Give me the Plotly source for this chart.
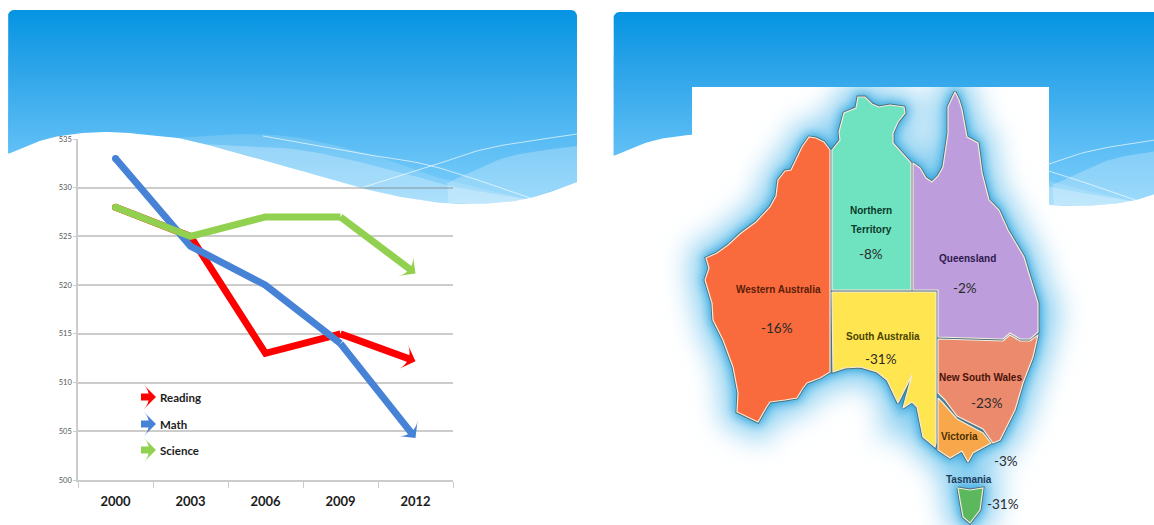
import base64

import numpy as np
import plotly.graph_objects as go

# PISA mean scores by study year
years = ["2000", "2003", "2006", "2009", "2012"]
reading = [528, 525, 513, 515, 512.2]
math = [533, 524, 520, 514, 504.3]
science = [528, 525, 527, 527, 521.2]

# State names and the change shown on each
state_names = ["Northern", "Territory", "Queensland", "Western Australia", "South Australia",
               "New South Wales", "Victoria", "Tasmania"]
state_changes = ["-8%", "-2%", "-16%", "-31%", "-23%", "-3%", "-31%"]

# Map outlines, in page pixels
wa = [(830,150),(824,142),(816,138),(809,137),(802,147),(796,160),(791,170),(785,171),(778,180),(776,196),(770,207),
      (756,222),(741,233),(728,245),(717,253),(706,258),(709,268),(705,280),(709,292),(712,303),(713,320),(723,340),
      (733,367),(738,393),(737,412),(747,417),(758,422),(766,408),(770,402),(785,400),(797,398),(803,388),(807,383),
      (820,378),(830,372)]
nt = [(832,150),(840,140),(839,132),(844,113),(856,108),(858,97),(865,97),(872,104),(879,107),(890,105),(904,107),
      (905,113),(898,122),(893,133),(893,143),(902,153),(911,163),(911,290),(832,290)]
qld = [(913,163),(920,168),(926,178),(932,182),(938,176),(943,167),(948,133),(948,107),(955,92),(959,100),(962,110),
       (967,137),(978,143),(982,173),(989,200),(999,210),(1008,230),(1024,257),(1030,277),(1038,303),(1038,332),
       (1030,339),(1020,339),(1010,333),(1003,339),(938,337),(938,290),(913,290)]
sa = [(832,292),(936,292),(936,443),(935,447),(923,437),(917,407),(912,402),(903,408),(912,375),(898,403),(887,380),
      (877,372),(860,367),(845,368),(833,372)]
nsw = [(938,339),(1003,341),(1010,335),(1020,341),(1030,341),(1038,335),(1033,357),(1023,383),(1015,410),(1000,440),
       (993,443),(983,429),(957,416),(945,400),(938,393)]
vic = [(938,398),(943,403),(957,419),(983,433),(991,443),(973,453),(968,462),(962,451),(950,458),(938,450)]
tas = [(958,488),(970,490),(983,488),(980,510),(970,523),(963,517),(960,500)]
map_regions = [(wa, "#f96b3c"), (nt, "#6fe3bf"), (qld, "#bd9ddc"), (sa, "#ffe650"),
               (nsw, "#ec8a6e"), (vic, "#f8a84a"), (tas, "#5cb85c")]

# Header artwork curves, in page pixels for the left panel
wave_edge = [(8,154),(50,138),(101,132),(150,135),(188,140),(263,160),(361,188),(420,200),(470,204),(526,199),(577,182)]
band_a = [(173,138),(240,134),(300,138),(376,156),(440,178),(526,199)]
band_b = [(200,144),(300,150),(400,172),(450,186),(526,199)]
band_c = [(447,183),(507,157),(577,146)]
ribbon_a = [(263,136),(350,152),(432,166),(530,198)]
ribbon_b = [(361,188),(432,166),(489,148),(577,134)]


def smooth(pts, n=14):
    """Catmull-Rom resampling of a hand-placed artwork curve."""
    p = np.array([pts[0]] + list(pts) + [pts[-1]], dtype=float)
    out = []
    for i in range(1, len(p) - 2):
        for t in np.linspace(0, 1, n, endpoint=False):
            a = 2 * p[i] + (p[i + 1] - p[i - 1]) * t
            b = (2 * p[i - 1] - 5 * p[i] + 4 * p[i + 1] - p[i + 2]) * t ** 2
            c = (3 * p[i] - p[i - 1] - 3 * p[i + 1] + p[i + 2]) * t ** 3
            out.append(0.5 * (a + b + c))
    out.append(p[-2])
    return np.array(out)


def panel_outline(left, right, top, bottom, r=6):
    ang = np.linspace(np.pi, 1.5 * np.pi, 7)
    tl = np.c_[left + r + r * np.cos(ang), top + r + r * np.sin(ang)]
    tr = np.c_[right - r - r * np.cos(ang[::-1]), top + r + r * np.sin(ang[::-1])]
    return np.vstack([[(left, bottom)], tl, tr, [(right, bottom)], [(left, bottom)]])


def glow_image():
    """Soft blue halo around the coast, rendered as a blurred SVG layer."""
    polys = "".join(
        '<polygon points="' + " ".join(f"{x},{y}" for x, y in pts) + '"/>' for pts, _ in map_regions
    )
    svg = (
        '<svg xmlns="http://www.w3.org/2000/svg" width="1154" height="525" viewBox="0 0 1154 525">'
        '<defs>'
        '<clipPath id="sheet"><rect x="600" y="87" width="554" height="438"/></clipPath>'
        '<filter id="wide" x="-20%" y="-20%" width="140%" height="140%"><feGaussianBlur stdDeviation="14"/></filter>'
        '<filter id="tight" x="-20%" y="-20%" width="140%" height="140%"><feGaussianBlur stdDeviation="5"/></filter>'
        '</defs>'
        '<g clip-path="url(#sheet)">'
        f'<g filter="url(#wide)" fill="#86cdf0" stroke="#86cdf0" stroke-width="30">{polys}</g>'
        f'<g filter="url(#tight)" fill="#1f9bd8" stroke="#1f9bd8" stroke-width="5" opacity="0.9">{polys}</g>'
        '</g></svg>'
    )
    return "data:image/svg+xml;base64," + base64.b64encode(svg.encode()).decode()


fig = go.Figure()


def add_poly(xy, xaxis="x", yaxis="y", **kw):
    xy = np.asarray(xy, dtype=float)
    fig.add_trace(go.Scatter(x=xy[:, 0], y=xy[:, 1], mode="lines", hoverinfo="skip",
                             showlegend=False, xaxis=xaxis, yaxis=yaxis, **kw))


def add_header(dx, dy, right):
    sky = [[0, "#0494e2"], [0.26, "#28a2e8"], [0.62, "#54b9f3"], [1, "#80d0fb"]]
    shift = np.array([dx, dy])
    add_poly(panel_outline(8 + dx, right, 10 + dy, 206 + dy), fill="toself", line=dict(width=0),
             fillgradient=dict(type="vertical", colorscale=sky, start=10 + dy, stop=206 + dy))
    edge = smooth(wave_edge) + shift
    for curve, alpha in ((band_a, 0.14), (band_b, 0.26)):
        top = smooth(curve) + shift
        low = edge[(edge[:, 0] >= top[0, 0]) & (edge[:, 0] <= top[-1, 0])][::-1]
        add_poly(np.vstack([top, low]), fill="toself", line=dict(width=0),
                 fillcolor=f"rgba(255,255,255,{alpha})")
    top = smooth(band_c) + shift
    low = edge[edge[:, 0] >= top[0, 0]][::-1]
    add_poly(np.vstack([top, low]), fill="toself", line=dict(width=0), fillcolor="rgba(255,255,255,0.24)")
    # White slide body beneath the wave
    body = np.vstack([[(6 + dx, edge[0, 1])], edge, [(580 + dx, edge[-1, 1]), (580 + dx, 215 + dy), (6 + dx, 215 + dy)]])
    add_poly(body, fill="toself", line=dict(width=0), fillcolor="#ffffff")
    for ribbon in (ribbon_a, ribbon_b):
        add_poly(smooth(ribbon) + shift, line=dict(color="rgba(255,255,255,0.65)", width=1))


add_header(0, 0, 577)
add_header(605.5, 2, 1200)

# White backing behind the map
add_poly([(692,87),(1049,87),(1049,206),(692,206)], fill="toself", line=dict(width=0), fillcolor="#ffffff")

# Coastline stroke under the state fills
coast_x, coast_y = [], []
for pts, _ in map_regions:
    coast_x += [p[0] for p in pts] + [pts[0][0], None]
    coast_y += [p[1] for p in pts] + [pts[0][1], None]
fig.add_trace(go.Scatter(x=coast_x, y=coast_y, mode="lines", hoverinfo="skip", showlegend=False,
                         xaxis="x3", yaxis="y3", line=dict(color="#4e7078", width=3)))
for pts, colour in map_regions:
    add_poly(list(pts) + [pts[0]], xaxis="x3", yaxis="y3", fill="toself", fillcolor=colour,
             line=dict(color="#f3ece0", width=1.2))

# Score lines: the last segment stops short of its arrow tip
series = [("Reading", reading, "#ff0000"), ("Math", math, "#4682d6"), ("Science", science, "#92d050")]
for name, values, colour in series:
    fig.add_trace(go.Scatter(
        x=years[:4], y=values[:4], name=name, mode="lines+markers", xaxis="x2", yaxis="y2", showlegend=False,
        line=dict(color=colour, width=7),
        marker=dict(symbol="circle", size=[7, 0, 0, 0], opacity=1, color=colour, line=dict(width=0)),
    ))
    fig.add_trace(go.Scatter(
        x=years[3:], y=values[3:], name=name, mode="lines+markers", xaxis="x2", yaxis="y2", showlegend=False,
        line=dict(color=colour, width=7, backoff=4.5),
        marker=dict(symbol="arrow-wide", size=[0, 18], opacity=1, angleref="previous",
                    color=colour, line=dict(width=0)),
    ))

# Key below the lines, drawn with the same glyph as the series
key_rows = [397, 424, 450]
for (name, _, colour), row in zip(series, key_rows):
    fig.add_trace(go.Scatter(
        x=[141, 156], y=[row, row], mode="lines+markers", hoverinfo="skip", showlegend=False,
        line=dict(color=colour, width=7, backoff=4.5),
        marker=dict(symbol=["circle", "arrow-wide"], size=[7, 17], opacity=1, angleref="previous",
                    color=colour, line=dict(width=0)),
    ))
    fig.add_annotation(x=157.5, y=row, xref="x", yref="y", text=f"<b>{name}</b>", showarrow=False,
                       xanchor="left", font=dict(family="Lato", size=11.5, color="#1c1c1c"))

# State names and percentage changes
name_spots = [(871, 210), (871, 229), (967, 258), (778, 289), (883, 336), (980, 377), (959, 436), (969, 479)]
name_inks = ["#0b3a2c", "#0b3a2c", "#2e1a4d", "#5a1d0a", "#4a4300", "#4a1208", "#4a3000", "#1d3c5a"]
change_spots = [(871, 254), (965, 288), (777, 328), (881, 359), (987, 403), (1006, 461), (1003, 504)]
for name, spot, ink in zip(state_names, name_spots, name_inks):
    fig.add_annotation(x=spot[0], y=spot[1], xref="x", yref="y", text=f"<b>{name}</b>", showarrow=False,
                       font=dict(family="Liberation Sans", size=10, color=ink), align="center")
for change, spot in zip(state_changes, change_spots):
    fig.add_annotation(x=spot[0], y=spot[1], xref="x", yref="y", text=change, showarrow=False,
                       font=dict(family="Liberation Sans Narrow, Lato", size=13.5, color="#2a2a2a"))

grey = "rgba(120,120,120,0.38)"
fig.update_layout(
    width=1154, height=525, autosize=False,
    margin=dict(l=0, r=0, t=0, b=0, pad=0, autoexpand=False),
    paper_bgcolor="#ffffff", plot_bgcolor="rgba(0,0,0,0)", showlegend=False,
    xaxis=dict(domain=[0, 1], range=[0, 1154], visible=False, fixedrange=True),
    yaxis=dict(domain=[0, 1], range=[525, 0], visible=False, fixedrange=True),
    xaxis3=dict(domain=[0, 1], range=[0, 1154], visible=False, fixedrange=True, anchor="y3"),
    yaxis3=dict(domain=[0, 1], range=[525, 0], visible=False, fixedrange=True, anchor="x3"),
    xaxis2=dict(domain=[78 / 1154, 453 / 1154], anchor="y2", type="category", categoryorder="array",
                categoryarray=years, range=[-0.5, 4.5], tickson="boundaries", ticks="outside", ticklen=6,
                tickcolor=grey, tickwidth=1.2, showgrid=False, showline=True, linecolor=grey, linewidth=1.5,
                ticklabelstandoff=9,
                tickfont=dict(family="Lato", size=13, color="#1c1c1c", weight="bold"), fixedrange=True),
    yaxis2=dict(domain=[45 / 525, 386 / 525], anchor="x2", range=[500, 535], dtick=5, ticks="outside", ticklen=3,
                tickcolor=grey, tickwidth=1.2, showgrid=True, gridcolor=grey, gridwidth=1.5, zeroline=False,
                showline=True, linecolor=grey, linewidth=1.5,
                tickfont=dict(family="Lato", size=7.5, color="#555555"), fixedrange=True),
    images=[dict(source=glow_image(), xref="x3", yref="y3", x=0, y=0, sizex=1154, sizey=525,
                 xanchor="left", yanchor="top", sizing="stretch", layer="below")],
)

fig.write_html("out.html", config={"displayModeBar": False})
